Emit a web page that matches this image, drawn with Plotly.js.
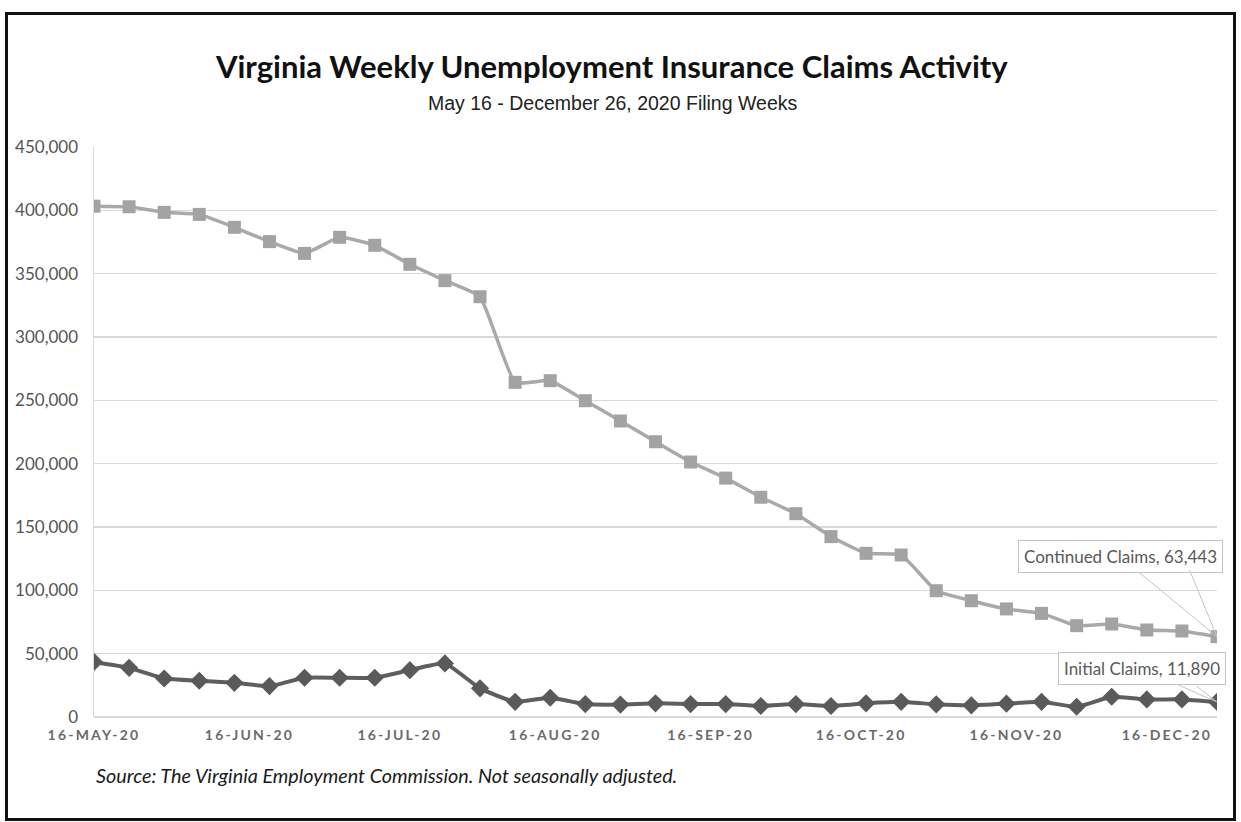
<!DOCTYPE html>
<html>
<head>
<meta charset="utf-8">
<script src="https://cdn.plot.ly/plotly-3.0.1.min.js"></script>
<style>
  html, body { margin: 0; padding: 0; background: #ffffff; }
  #wrap { position: relative; width: 1241px; height: 822px; }
  #chart { position: absolute; left: 0; top: 0; width: 1241px; height: 822px; }
  #frame { position: absolute; left: 5px; top: 12px; width: 1225px; height: 803px;
           border: 3px solid #111; pointer-events: none; }
  #chart .xtick text { letter-spacing: 2.2px; }
</style>
</head>
<body>
<div id="wrap">
  <div id="chart"></div>
  <div id="frame"></div>
</div>
<script>
// Filing weeks (week ending dates)
const weeks = [
  '2020-05-16','2020-05-23','2020-05-30','2020-06-06','2020-06-13','2020-06-20','2020-06-27',
  '2020-07-04','2020-07-11','2020-07-18','2020-07-25','2020-08-01','2020-08-08','2020-08-15',
  '2020-08-22','2020-08-29','2020-09-05','2020-09-12','2020-09-19','2020-09-26','2020-10-03',
  '2020-10-10','2020-10-17','2020-10-24','2020-10-31','2020-11-07','2020-11-14','2020-11-21',
  '2020-11-28','2020-12-05','2020-12-12','2020-12-19','2020-12-26'
];

// Continued claims (last value labelled)
const continuedClaims = [
  403300, 402800, 398400, 396800, 386600, 375300, 366000,
  378700, 372400, 357400, 344500, 331800, 264200, 265500,
  249700, 233700, 217300, 201300, 188600, 173500, 160500,
  142400, 129200, 127900, 99700, 91800, 85300, 81800,
  72100, 73400, 68700, 67900, 63443
];

// Initial claims (last value labelled)
const initialClaims = [
  43500, 38800, 30400, 28600, 27000, 24400, 31000,
  31000, 31000, 37000, 42300, 22600, 12000, 15200,
  10200, 9800, 10800, 10200, 10200, 8700, 10200,
  8700, 10800, 12000, 10000, 9200, 10500, 12000,
  8100, 16000, 13900, 13900, 11890
];

// X-axis tick positions and labels
const tickDates = ['2020-05-16','2020-06-16','2020-07-16','2020-08-16','2020-09-16','2020-10-16','2020-11-16','2020-12-16'];
const tickLabels = ['16-MAY-20','16-JUN-20','16-JUL-20','16-AUG-20','16-SEP-20','16-OCT-20','16-NOV-20','16-DEC-20'];

const titleText = 'Virginia Weekly Unemployment Insurance Claims Activity';
const subtitleText = 'May 16 - December 26, 2020 Filing Weeks';
const sourceText = 'Source: The Virginia Employment Commission. Not seasonally adjusted.';
const seriesNames = ['Continued Claims', 'Initial Claims'];

const fmt = v => v.toLocaleString('en-US');
const lastIdx = weeks.length - 1;

const traces = [
  {
    x: weeks, y: continuedClaims, name: seriesNames[0], type: 'scatter', mode: 'lines+markers',
    line: { color: '#a9a9a9', width: 3.5, shape: 'spline', smoothing: 0.4 },
    marker: { symbol: 'square', size: 13, color: '#a3a3a3' },
    hoverinfo: 'skip'
  },
  {
    x: weeks, y: initialClaims, name: seriesNames[1], type: 'scatter', mode: 'lines+markers',
    line: { color: '#5e5e5e', width: 4, shape: 'spline', smoothing: 0.4 },
    marker: { symbol: 'diamond', size: 14, color: '#5a5a5a' },
    hoverinfo: 'skip'
  }
];

const boxFont = { family: 'Lato, Carlito, sans-serif', size: 17, color: '#595959' };

const layout = {
  width: 1241, height: 822,
  paper_bgcolor: 'rgba(0,0,0,0)', plot_bgcolor: '#ffffff',
  margin: { l: 94, r: 24, t: 147, b: 105 },
  showlegend: false,
  title: {
    text: '<b>' + titleText + '</b>',
    font: { family: 'Lato, Carlito, sans-serif', size: 31, color: '#111111' },
    x: 0.493, xanchor: 'center', y: 0.918, yanchor: 'middle'
  },
  xaxis: {
    type: 'date',
    range: [weeks[0], weeks[lastIdx]],
    tickvals: tickDates, ticktext: tickLabels,
    tickfont: { family: 'Lato, sans-serif', size: 14, color: '#6a6a6a', weight: 'bold' },
    showgrid: false, zeroline: false, showline: false,
    ticks: '', ticklabelstandoff: 8
  },
  yaxis: {
    range: [0, 450000], dtick: 50000, tickformat: ',d',
    tickfont: { family: 'Lato, Carlito, sans-serif', size: 17, color: '#555555' },
    gridcolor: '#d9d9d9', gridwidth: 1.5,
    zeroline: true, zerolinecolor: '#d9d9d9', zerolinewidth: 1.5,
    showline: true, linecolor: '#d9d9d9', linewidth: 1.5,
    ticks: '', ticklabelstandoff: 11
  },
  annotations: [
    {
      xref: 'paper', yref: 'paper', x: 0.462, y: 1.0, yshift: 44,
      xanchor: 'center', yanchor: 'middle', showarrow: false,
      text: subtitleText,
      font: { family: 'Liberation Sans Narrow, Liberation Sans, Arial Narrow, sans-serif', stretch: 'condensed', size: 19.5, color: '#222222' }
    },
    {
      xref: 'paper', yref: 'paper', x: 0.0, y: 0, yshift: -58, xshift: 0,
      xanchor: 'left', yanchor: 'middle', showarrow: false,
      text: '<i>' + sourceText + '</i>',
      font: { family: 'Lato, Carlito, sans-serif', size: 19.8, color: '#1a1a1a' }
    },
    {
      x: weeks[lastIdx], y: continuedClaims[lastIdx], xref: 'x', yref: 'y',
      text: seriesNames[0] + ', ' + fmt(continuedClaims[lastIdx]),
      font: boxFont, bgcolor: '#ffffff', bordercolor: '#c4c4c4', borderwidth: 1, borderpad: 5,
      showarrow: true, arrowhead: 0, arrowwidth: 1, arrowcolor: '#c4c4c4', standoff: 0,
      ax: -97, ay: -80
    },
    {
      x: weeks[lastIdx], y: continuedClaims[lastIdx], xref: 'x', yref: 'y',
      text: '', showarrow: true, arrowhead: 0, arrowwidth: 1, arrowcolor: '#c4c4c4', standoff: 0,
      ax: -28, ay: -68
    },
    {
      x: weeks[lastIdx], y: initialClaims[lastIdx], xref: 'x', yref: 'y',
      text: seriesNames[1] + ', ' + fmt(initialClaims[lastIdx]),
      font: boxFont, bgcolor: '#ffffff', bordercolor: '#c4c4c4', borderwidth: 1, borderpad: 5,
      showarrow: true, arrowhead: 0, arrowwidth: 1, arrowcolor: '#c4c4c4', standoff: 0,
      ax: -75, ay: -33
    },
    {
      x: weeks[lastIdx], y: initialClaims[lastIdx], xref: 'x', yref: 'y',
      text: '', showarrow: true, arrowhead: 0, arrowwidth: 1, arrowcolor: '#c4c4c4', standoff: 0,
      ax: -22, ay: -17
    }
  ]
};

Plotly.newPlot('chart', traces, layout, { displayModeBar: false, staticPlot: true });
</script>
</body>
</html>
